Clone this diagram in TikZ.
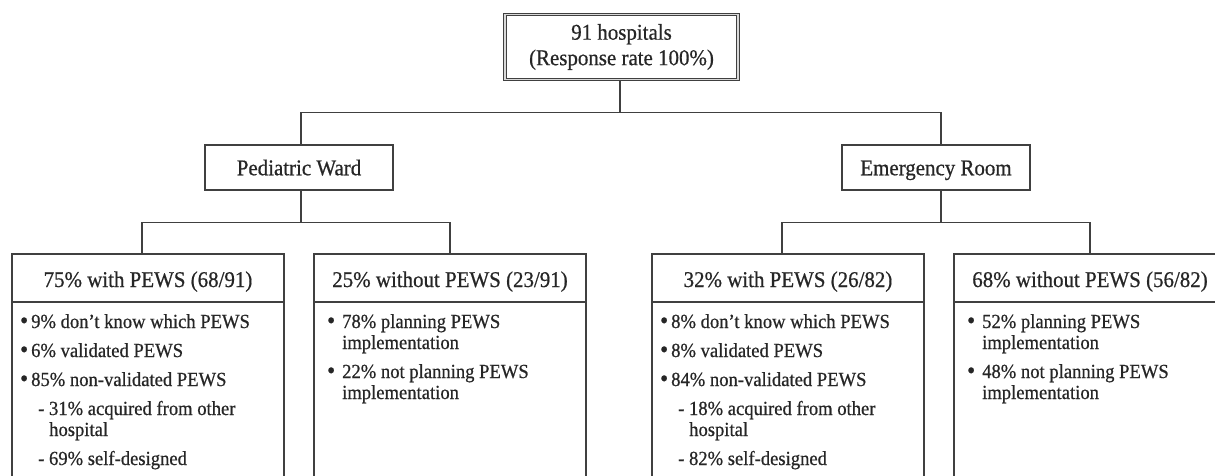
\documentclass[tikz,border=0pt]{standalone}
\usepackage{fontspec}
\setmainfont[FakeStretch=0.93,FakeBold=0.6]{Liberation Serif}
\newcommand{\bul}[1]{\llap{{\fontsize{25}{25}\selectfont\raisebox{-0.6pt}{\textbullet}}\hspace{#1}}}
\begin{document}
\begin{tikzpicture}[x=1pt,y=-1pt,
  ln/.style={draw=black!75,line width=1.4pt},
  box/.style={ln,rectangle,inner sep=0pt},
  hd/.style={font=\fontsize{22.5}{25}\selectfont,inner sep=0pt,anchor=base,text=black!85},
  tx/.style={font=\fontsize{20}{21}\selectfont,inner sep=0pt,anchor=base west,text=black!85},
]
\clip (0,0) rectangle (1215,475);
\fill[white] (0,0) rectangle (1215,475);

% top
\node[box, line width=1.1pt, double=white!70!gray, double distance=1.3pt,
      minimum width=233pt, minimum height=65pt, align=center,
      font=\fontsize{22.5}{25.5}\selectfont, text=black!85] (top) at (621.5,47) {91 hospitals\\(Response rate 100\%)};

% second level
\node[box, minimum width=188pt, minimum height=45pt, font=\fontsize{22.5}{25}\selectfont,
      text height=15.5pt, text depth=0pt, text=black!85] (pw) at (299,167.5) {Pediatric Ward};
\node[box, minimum width=188pt, minimum height=45pt, font=\fontsize{22.5}{25}\selectfont,
      text height=15.5pt, text depth=0pt, text=black!85] (er) at (936,167.5) {Emergency Room};

% third level boxes
\node[box, minimum width=272pt, minimum height=246pt] (b1) at (148,377) {};
\node[box, minimum width=272pt, minimum height=246pt] (b2) at (450,377) {};
\node[box, minimum width=272pt, minimum height=246pt] (b3) at (788,377) {};
\node[box, minimum width=272pt, minimum height=246pt] (b4) at (1090,377) {};

\coordinate (dv) at (0,302);
\draw[ln] (b1.west |- dv) -- (b1.east |- dv);
\draw[ln] (b2.west |- dv) -- (b2.east |- dv);
\draw[ln] (b3.west |- dv) -- (b3.east |- dv);
\draw[ln] (b4.west |- dv) -- (b4.east |- dv);

% connectors
\coordinate (j1) at (620,113);
\draw[ln] (top.south -| j1) -- (j1);
\draw[ln] ([xshift=2pt]pw.north) -- ++(0,-32) -| ([xshift=5pt]er.north);
\draw[ln] ([xshift=2pt]pw.south) -- ++(0,32) coordinate (j2);
\draw[ln] ([xshift=-6pt]b1.north) |- (j2) -| (b2.north);
\draw[ln] ([xshift=5pt]er.south) -- ++(0,32) coordinate (j3);
\draw[ln] ([xshift=-6pt]b3.north) |- (j3) -| (b4.north);

% headers
\node[hd] (h1) at (148,287) {75\% with PEWS (68/91)};
\node[hd] (h2) at (450,287) {25\% without PEWS (23/91)};
\node[hd] (h3) at (788,287) {32\% with PEWS (26/82)};
\node[hd] (h4) at (1090,287) {68\% without PEWS (56/82)};

% box 1
\node[tx] (t11) at (31,328) {\bul{3pt}9\% don't know which PEWS};
\node[tx] (t12) at (31,357) {\bul{3pt}6\% validated PEWS};
\node[tx] (t13) at (31,386) {\bul{3pt}85\% non-validated PEWS};
\node[tx] (t14) at (38,415) {- 31\% acquired from other};
\node[tx] (t15) at (49,436) {hospital};
\node[tx] (t16) at (38,465) {- 69\% self-designed};

% box 2
\node[tx] (t21) at (342,328) {\bul{7pt}78\% planning PEWS};
\node[tx] (t22) at (342,349) {implementation};
\node[tx] (t23) at (342,378) {\bul{7pt}22\% not planning PEWS};
\node[tx] (t24) at (342,399) {implementation};

% box 3
\node[tx] (t31) at (671,328) {\bul{3pt}8\% don't know which PEWS};
\node[tx] (t32) at (671,357) {\bul{3pt}8\% validated PEWS};
\node[tx] (t33) at (671,386) {\bul{3pt}84\% non-validated PEWS};
\node[tx] (t34) at (678,415) {- 18\% acquired from other};
\node[tx] (t35) at (689,436) {hospital};
\node[tx] (t36) at (678,465) {- 82\% self-designed};

% box 4
\node[tx] (t41) at (982,328) {\bul{7pt}52\% planning PEWS};
\node[tx] (t42) at (982,349) {implementation};
\node[tx] (t43) at (982,378) {\bul{7pt}48\% not planning PEWS};
\node[tx] (t44) at (982,399) {implementation};
\end{tikzpicture}
\end{document}
